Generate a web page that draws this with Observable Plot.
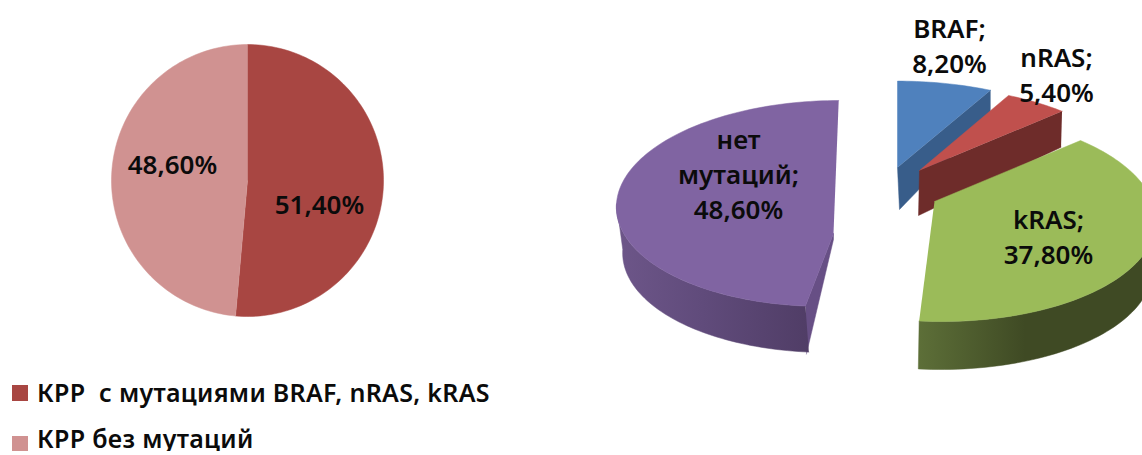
<!DOCTYPE html>
<html>
<head>
<meta charset="utf-8">
<script src="https://cdn.jsdelivr.net/npm/d3@7"></script>
<script src="https://cdn.jsdelivr.net/npm/@observablehq/plot@0.6"></script>
<style>
html,body{margin:0;padding:0;background:#fff;overflow:hidden}
#legend{font-family:"Noto Sans",sans-serif;font-weight:600;font-size:25px;letter-spacing:.3px;line-height:1;color:#0b0b0b;margin-top:4px}
.row{display:flex;align-items:center;height:25px;padding-left:12px;white-space:pre}
.row+.row{margin-top:21px}
.row+.row .sw{position:relative;top:5px}
.sw{width:16px;height:16px;margin-right:9px;flex:none}
</style>
</head>
<body>
<div id="chart"></div>
<div id="legend"></div>
<script>
// data
const flatLabels = ["51,40%", "48,60%"];
const flatValues = [51.4, 48.6];
const flatColors = ["#a84642", "#d09291"];
const legendLabels = ["КРР  с мутациями BRAF, nRAS, kRAS", "КРР без мутаций"];

const sliceNames = ["BRAF", "nRAS", "kRAS", "нет мутаций"];
const sliceValues = [8.2, 5.4, 37.8, 48.6];
const sliceText = ["BRAF;\n8,20%", "nRAS;\n5,40%", "kRAS;\n37,80%", "нет\nмутаций;\n48,60%"];

// layout of each pie, in picture units
const flatLayout = {cx: 247, cy: 180, a: 136, b: 136, k: 0, sh: 0};
const layout3d = {
  "BRAF":        {cx: 897, cy: 167, a: 230, b: 108, k: -0.25, sh: 0, top: "#4f81bd", side: "#385d8a",
                  face: {apex: [2, 42], rim: [0, 25], end: true}},
  "nRAS":        {cx: 919, cy: 170, a: 220, b: 105, k: -0.25, sh: 0, top: "#c0504d", side: "#6e2c2a",
                  face: {apex: [-1, 45], rim: [-1, 36], end: true}},
  "kRAS":        {cx: 934, cy: 201, a: 218, b: 102, k: -0.15, sh: 0.06, top: "#9bbb59", wallFill: "url(#wallgreen)",
                  wall: {from: 0.27, dx: -1, dy: 48, scale: 0.99}},
  "нет мутаций": {cx: 831, cy: 203, a: 215, b: 103, k: 0, sh: -0.07, apex: [833, 233], top: "#8064a2", side: "#674f85",
                  wallFill: "url(#wallpurple)", wall: {from: 0.75, dx: 3, dy: 46, scale: 0.985},
                  face: {apex: [0, 6], rim: [1, 48], end: false}}
};
const labelSpots3d = {
  "BRAF": [949, 44], "nRAS": [1056, 73], "kRAS": [1048, 235], "нет мутаций": [738, 172]
};
const flatSpots = [[319, 202], [172, 162]];

const total = a => d3.sum(a);
function rim(l, s0, s1) {
  const n = Math.max(2, Math.ceil((s1 - s0) * 240));
  return d3.range(n + 1).map(i => {
    const t = 2 * Math.PI * (s0 + (s1 - s0) * i / n);
    const d = 1 - l.k * Math.cos(t);
    const Y = l.b * Math.cos(t) / d;
    return {x: l.cx + l.a * Math.sin(t) / d - l.sh * Y, y: l.cy - Y};
  });
}
const apexOf = l => l.apex ? {x: l.apex[0], y: l.apex[1]} : {x: l.cx, y: l.cy};

function cumulative(values) {
  const t = total(values);
  let c = 0;
  return values.map(v => { const s0 = c / t; c += v; return [s0, c / t]; });
}
const paint = (pts, fill) => Plot.line(pts, {x: "x", y: "y", fill, stroke: fill, strokeWidth: 0.5, curve: "linear"});

const marks = [];
// gradients for curved walls
marks.push(() => {
  const defs = d3.create("svg:defs");
  [["wallgreen", "#5d6f38", "#3f4a24", "#3f4a24"], ["wallpurple", "#6d5689", "#604b7b", "#503d66"]].forEach(([id, a, b, c]) => {
    const g = defs.append("linearGradient").attr("id", id).attr("x1", 0).attr("x2", 1).attr("y1", 0).attr("y2", 0);
    g.append("stop").attr("offset", "0%").attr("stop-color", a);
    g.append("stop").attr("offset", "45%").attr("stop-color", b);
    g.append("stop").attr("offset", "100%").attr("stop-color", c);
  });
  return defs.node();
});

// flat pie
cumulative(flatValues).forEach(([s0, s1], i) => {
  marks.push(paint([{x: flatLayout.cx, y: flatLayout.cy}, ...rim(flatLayout, s0, s1)], flatColors[i]));
});

// 3D pie
const spans = cumulative(sliceValues);
const drawOrder = [0, 1, 3, 2];
drawOrder.forEach(i => {
  const l = layout3d[sliceNames[i]];
  const [s0, s1] = spans[i];
  const arc = rim(l, s0, s1);
  const ap = apexOf(l);
  if (l.face) {
    const p = l.face.end ? arc[arc.length - 1] : arc[0];
    marks.push(paint([p, ap, {x: ap.x + l.face.apex[0], y: ap.y + l.face.apex[1]},
                      {x: p.x + l.face.rim[0], y: p.y + l.face.rim[1]}], l.side));
  }
  if (l.wall) {
    const w = l.wall;
    const front = i === 2 ? rim(l, w.from, s1) : rim(l, s0, w.from);
    const back = front.map(p => ({x: ap.x + (p.x - ap.x) * w.scale + w.dx, y: p.y + w.dy})).reverse();
    marks.push(paint([...front, ...back], l.wallFill));
  }
  marks.push(paint([ap, ...arc], l.top));
});

const textStyle = {fontFamily: '"Noto Sans", sans-serif', fontSize: 26, fontWeight: 600, fill: "#0b0b0b", lineHeight: 1.35};
marks.push(Plot.text(flatLabels, {x: (d, i) => flatSpots[i][0], y: (d, i) => flatSpots[i][1], text: d => d, ...textStyle}));
marks.push(Plot.text(sliceNames, {x: d => labelSpots3d[d][0], y: d => labelSpots3d[d][1], text: (d, i) => sliceText[i], ...textStyle}));

const plot = Plot.plot({
  width: 1142, height: 376,
  margin: 0,
  x: {domain: [0, 1142], range: [0, 1142], axis: null},
  y: {domain: [0, 376], range: [0, 376], axis: null},
  style: {display: "block", background: "#fff"},
  marks
});
document.getElementById("chart").append(plot);

const legend = document.getElementById("legend");
legendLabels.forEach((t, i) => {
  const r = document.createElement("div"); r.className = "row";
  const s = document.createElement("span"); s.className = "sw"; s.style.background = flatColors[i];
  const x = document.createElement("span"); x.textContent = t;
  r.append(s, x); legend.append(r);
});
</script>
</body>
</html>
